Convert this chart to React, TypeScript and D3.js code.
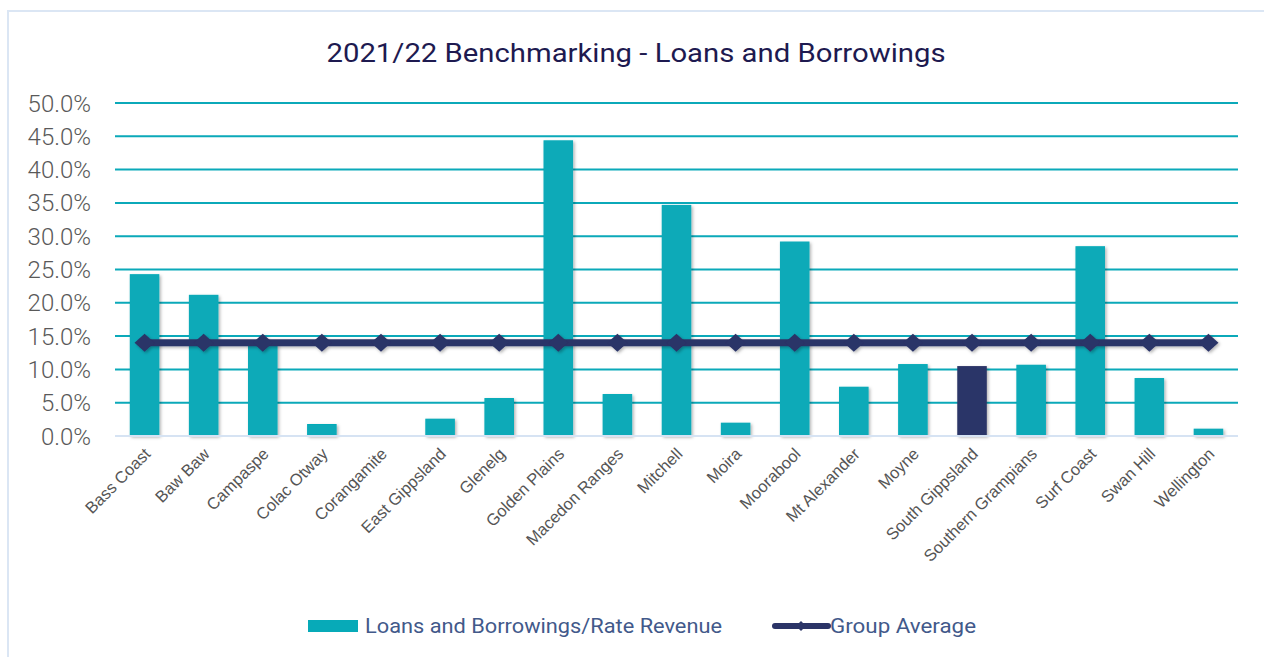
import React from "react";
import * as d3 from "d3";

const categories = [
  "Bass Coast", "Baw Baw", "Campaspe", "Colac Otway", "Corangamite", "East Gippsland",
  "Glenelg", "Golden Plains", "Macedon Ranges", "Mitchell", "Moira", "Moorabool",
  "Mt Alexander", "Moyne", "South Gippsland", "Southern Grampians", "Surf Coast",
  "Swan Hill", "Wellington",
];
const ratioValues = [
  0.243, 0.212, 0.138, 0.018, 0.0, 0.026, 0.057, 0.444, 0.063, 0.347, 0.020, 0.292,
  0.074, 0.108, 0.105, 0.107, 0.285, 0.087, 0.011,
];
const groupAverage = [
  0.14, 0.14, 0.14, 0.14, 0.14, 0.14, 0.14, 0.14, 0.14, 0.14, 0.14, 0.14, 0.14,
  0.14, 0.14, 0.14, 0.14, 0.14, 0.14,
];
const highlighted = ["South Gippsland"];
const yTicks = [0, 0.05, 0.1, 0.15, 0.2, 0.25, 0.3, 0.35, 0.4, 0.45, 0.5];

const TEAL = "#07aab8";
const NAVY = "#2b3467";

export default function App() {
  const W = 1264;
  const H = 657;
  const x = d3
    .scaleBand<string>()
    .domain(categories)
    .range([115, 1238])
    .paddingInner(0.5)
    .paddingOuter(0.25);
  const y = d3.scaleLinear().domain([0, 0.5]).range([436, 103]);
  const fmt = d3.format(".1%");
  const line = d3
    .line<number>()
    .x((_, i) => (x(categories[i]) as number) + x.bandwidth() / 2)
    .y((d) => y(d));

  return (
    <svg
      width={W}
      height={H}
      style={{ position: "absolute", left: 0, top: 0 }}
      viewBox={`0 0 ${W} ${H}`}
    >
      <defs>
        <filter id="shadow" x="-20%" y="-20%" width="140%" height="140%">
          <feDropShadow dx="1.5" dy="1.5" stdDeviation="1.5" floodColor="#000" floodOpacity="0.3" />
        </filter>
      </defs>
      <rect x={0} y={0} width={W} height={H} fill="#fff" />
      <rect x={8} y={11} width={W + 10} height={H + 10} fill="#fff" stroke="#dbe6f4" strokeWidth={2} />

      <text
        x={636}
        y={62}
        textAnchor="middle"
        fontFamily="Roboto"
        fontSize={26}
        fill="#1e1a50"
        textLength={619}
        lengthAdjust="spacingAndGlyphs"
      >
        2021/22 Benchmarking - Loans and Borrowings
      </text>

      {yTicks.map((t) => (
        <g key={t}>
          {t > 0 && (
            <line x1={115} x2={1238} y1={y(t)} y2={y(t)} stroke="#0ba9b9" strokeWidth={2} />
          )}
          <text
            x={91}
            y={y(t) + 8.5}
            textAnchor="end"
            fontFamily="Roboto"
            fontWeight={300}
            fontSize={24}
            fill="#595959"
          >
            {fmt(t)}
          </text>
        </g>
      ))}

      <g filter="url(#shadow)">
        {categories.map((c, i) => (
          <rect
            key={c}
            x={x(c)}
            y={y(ratioValues[i])}
            width={x.bandwidth()}
            height={y(0) - y(ratioValues[i])}
            fill={highlighted.includes(c) ? NAVY : TEAL}
          />
        ))}
      </g>

      <line x1={115} x2={1238} y1={y(0)} y2={y(0)} stroke="#d6e3f3" strokeWidth={2} />

      <g filter="url(#shadow)">
        <path d={line(groupAverage) || ""} fill="none" stroke={NAVY} strokeWidth={7} />
        {groupAverage.map((v, i) => {
          const cx = (x(categories[i]) as number) + x.bandwidth() / 2;
          const cy = y(v);
          return (
            <path
              key={i}
              d={`M${cx - 10},${cy} L${cx},${cy - 9} L${cx + 10},${cy} L${cx},${cy + 9} Z`}
              fill={NAVY}
            />
          );
        })}
      </g>

      {categories.map((c) => {
        const cx = (x(c) as number) + x.bandwidth() / 2;
        return (
          <text
            key={c}
            transform={`translate(${cx + 7},${455}) rotate(-45)`}
            textAnchor="end"
            fontFamily="Liberation Sans"
            fontSize={16.5}
            fill="#555555"
          >
            {c}
          </text>
        );
      })}

      <rect x={308} y={620} width={50} height={12} fill={TEAL} />
      <text
        x={365}
        y={633}
        fontFamily="Roboto"
        fontSize={20}
        fill="#42598a"
        textLength={357}
        lengthAdjust="spacingAndGlyphs"
      >
        Loans and Borrowings/Rate Revenue
      </text>
      <line x1={775} x2={828} y1={626} y2={626} stroke={NAVY} strokeWidth={6} strokeLinecap="round" />
      <path d="M796,626 L801,621 L806,626 L801,631 Z" fill={NAVY} />
      <text
        x={830}
        y={633}
        fontFamily="Roboto"
        fontSize={20}
        fill="#42598a"
        textLength={146}
        lengthAdjust="spacingAndGlyphs"
      >
        Group Average
      </text>
    </svg>
  );
}
